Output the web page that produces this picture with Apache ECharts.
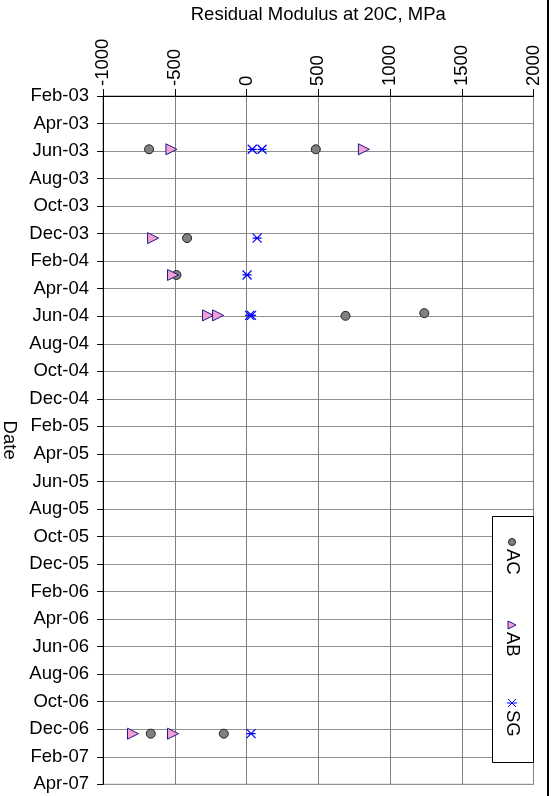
<!DOCTYPE html>
<html><head><meta charset="utf-8">
<script src="https://cdn.jsdelivr.net/npm/echarts@6/dist/echarts.min.js"></script>
<style>html,body{margin:0;padding:0;background:#fff}#c{width:555px;height:796px}</style>
</head><body><div id="c"></div>
<script>
// ---- data ----
const dateTicks = ['Feb-03','Apr-03','Jun-03','Aug-03','Oct-03','Dec-03','Feb-04','Apr-04','Jun-04','Aug-04','Oct-04','Dec-04','Feb-05','Apr-05','Jun-05','Aug-05','Oct-05','Dec-05','Feb-06','Apr-06','Jun-06','Aug-06','Oct-06','Dec-06','Feb-07','Apr-07'];
const valueTicks = [-1000, -500, 0, 500, 1000, 1500, 2000];

const acDates  = ['2003-05-28','2003-05-28','2003-12-11','2004-03-01','2004-05-31','2004-05-25','2006-12-11','2006-12-11'];
const acValues = [-679, 483, -414, -488, 690, 1239, -667, -158];

const abDates  = ['2003-05-28','2003-05-28','2003-12-11','2004-03-01','2004-05-30','2004-05-30','2006-12-11','2006-12-11'];
const abValues = [-523, 818, -651, -512, -268, -198, -791, -512];

const sgDates  = ['2003-05-28','2003-05-28','2003-12-11','2004-03-01','2004-05-30','2004-05-30','2006-12-11'];
const sgValues = [40, 108, 74, 4, 22, 35, 32];

// months elapsed since 1 Feb 2003 (axis unit)
function monthPos(s) {
  const [y, m, d] = s.split('-').map(Number);
  const dim = new Date(y, m, 0).getDate();
  return (y - 2003) * 12 + (m - 2) + (d - 1) / dim;
}
function pairs(dates, vals) { return vals.map((v, i) => [v, monthPos(dates[i])]); }

const FONT = 'Liberation Sans, Arial, sans-serif';
const FS = 18.5;
const starPath = 'path://M0,0 L10,10 M10,0 L0,10 M0,5 L10,5';

const chart = echarts.init(document.getElementById('c'), null, {renderer: 'canvas'});
chart.setOption({
  animation: false,
  backgroundColor: '#fff',
  grid: {left: 103, top: 96, right: 21.5, bottom: 11.7, containLabel: false, outerBoundsMode: 'none',
    show: true, borderColor: '#808080', borderWidth: 1, backgroundColor: 'transparent'},
  xAxis: {
    type: 'value', position: 'top',
    min: valueTicks[0], max: valueTicks[valueTicks.length - 1], interval: 500,
    name: 'Residual Modulus at 20C, MPa', nameLocation: 'middle', nameGap: 72,
    nameTextStyle: {color: '#000', fontSize: FS, fontFamily: FONT},
    axisLine: {show: true, onZero: false, lineStyle: {color: '#000', width: 1}},
    axisTick: {show: true, inside: false, length: 7, lineStyle: {color: '#000'}},
    axisLabel: {rotate: -90, margin: 10, color: '#000', fontSize: FS, fontFamily: FONT, showMinLabel: true, showMaxLabel: true,
      formatter: v => String(v)},
    splitLine: {show: true, lineStyle: {color: '#808080', width: 1}}
  },
  yAxis: {
    type: 'value', inverse: true, min: 0, max: 50, interval: 2,
    name: 'Date', nameLocation: 'middle', nameGap: 81, nameRotate: -90,
    nameTextStyle: {color: '#000', fontSize: FS, fontFamily: FONT},
    axisLine: {show: true, onZero: false, lineStyle: {color: '#000', width: 1}},
    axisTick: {show: true, inside: false, length: 6, lineStyle: {color: '#000'}},
    axisLabel: {margin: 14, color: '#000', fontSize: FS, fontFamily: FONT, showMinLabel: true, showMaxLabel: true,
      formatter: v => dateTicks[Math.round(v / 2)]},
    splitLine: {show: true, lineStyle: {color: '#909090', width: 1}}
  },
  series: [
    {name: 'AC', type: 'scatter', data: pairs(acDates, acValues), symbol: 'circle', symbolSize: 9,
      itemStyle: {color: '#808080', borderColor: '#222', borderWidth: 1, opacity: 1}},
    {name: 'AB', type: 'scatter', data: pairs(abDates, abValues), symbol: 'triangle', symbolRotate: -90, symbolSize: 11,
      itemStyle: {color: '#F79FCF', borderColor: '#1a1a90', borderWidth: 1, opacity: 1}},
    {name: 'SG', type: 'scatter', data: pairs(sgDates, sgValues), symbol: starPath, symbolSize: 9,
      itemStyle: {color: 'rgba(0,0,0,0)', borderColor: '#0000FF', borderWidth: 1.2, opacity: 1}}
  ],
  graphic: [
    {type: 'line', shape: {x1: 548, y1: 0, x2: 548, y2: 796}, style: {stroke: '#000', lineWidth: 2}, z: 10},
    {type: 'rect', shape: {x: 492.5, y: 516.5, width: 41, height: 246}, style: {fill: '#fff', stroke: '#000', lineWidth: 1}, z: 10},
    {type: 'circle', shape: {cx: 512, cy: 542, r: 3.5}, style: {fill: '#808080', stroke: '#222', lineWidth: 1}, z: 11},
    {type: 'text', x: 512, y: 549, rotation: -Math.PI / 2, style: {text: 'AC', fill: '#000', fontSize: FS, fontFamily: FONT, align: 'left', verticalAlign: 'middle'}, z: 11},
    {type: 'polygon', shape: {points: [[508, 621], [516, 625], [508, 629]]}, style: {fill: '#F79FCF', stroke: '#1a1a90', lineWidth: 1}, z: 11},
    {type: 'text', x: 512, y: 632, rotation: -Math.PI / 2, style: {text: 'AB', fill: '#000', fontSize: FS, fontFamily: FONT, align: 'left', verticalAlign: 'middle'}, z: 11},
    {type: 'line', shape: {x1: 508, y1: 699, x2: 516, y2: 707}, style: {stroke: '#0000FF', lineWidth: 1}, z: 11},
    {type: 'line', shape: {x1: 516, y1: 699, x2: 508, y2: 707}, style: {stroke: '#0000FF', lineWidth: 1}, z: 11},
    {type: 'line', shape: {x1: 507, y1: 703, x2: 517, y2: 703}, style: {stroke: '#0000FF', lineWidth: 1}, z: 11},
    {type: 'text', x: 512, y: 710, rotation: -Math.PI / 2, style: {text: 'SG', fill: '#000', fontSize: FS, fontFamily: FONT, align: 'left', verticalAlign: 'middle'}, z: 11}
  ]
});
</script></body></html>
